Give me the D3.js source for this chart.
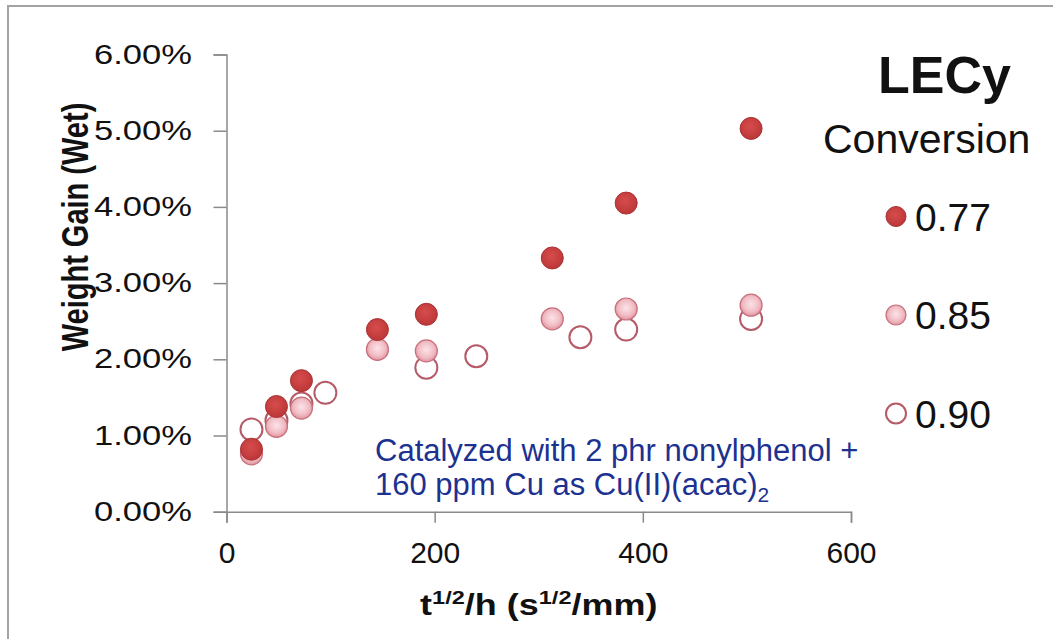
<!DOCTYPE html>
<html>
<head>
<meta charset="utf-8">
<script src="https://cdn.jsdelivr.net/npm/d3@7"></script>
<style>
  body { margin: 0; background: #fff; }
  svg { font-family: "Liberation Sans", Arial, sans-serif; }
</style>
</head>
<body>
<script>
// data (weight gain in %)
var seriesNames = ["0.77", "0.85", "0.90"];
var x077 = [24, 48, 72, 145, 192, 313, 384, 504];
var y077 = [0.82, 1.38, 1.72, 2.39, 2.59, 3.33, 4.05, 5.03];
var x085 = [24, 48, 72, 145, 192, 313, 384, 504];
var y085 = [0.76, 1.12, 1.36, 2.13, 2.11, 2.53, 2.66, 2.71];
var x090 = [24, 48, 72, 95, 192, 240, 340, 384, 504];
var y090 = [1.08, 1.20, 1.42, 1.56, 1.89, 2.04, 2.29, 2.39, 2.53];
var xTicks = [0, 200, 400, 600];
var yTicks = [0, 1, 2, 3, 4, 5, 6];
var noteLines = ["Catalyzed with 2 phr nonylphenol +", "160 ppm Cu as Cu(II)(acac)"];

function drawChart() {
  var width = 1053;
  var height = 639;

  var svg = d3.select("body")
    .append("svg")
    .attr("width", width)
    .attr("height", height);

  var defs = svg.append("defs");
  var g1 = defs.append("radialGradient").attr("id", "red").attr("cx", "45%").attr("cy", "40%").attr("r", "60%");
  g1.append("stop").attr("offset", "0%").attr("stop-color", "#d64c4c");
  g1.append("stop").attr("offset", "100%").attr("stop-color", "#bd3738");
  var g2 = defs.append("radialGradient").attr("id", "pink").attr("cx", "50%").attr("cy", "45%").attr("r", "60%");
  g2.append("stop").attr("offset", "0%").attr("stop-color", "#fbe4e8");
  g2.append("stop").attr("offset", "60%").attr("stop-color", "#f1bcc4");
  g2.append("stop").attr("offset", "100%").attr("stop-color", "#dc8794");

  var styles = {
    "0.77": { fill: "url(#red)", stroke: "#a83234", sw: 1 },
    "0.85": { fill: "url(#pink)", stroke: "#c7707c", sw: 1.2 },
    "0.90": { fill: "#fff", stroke: "#b55a66", sw: 2 }
  };

  svg.append("rect")
    .attr("x", 8).attr("y", 6)
    .attr("width", 1100).attr("height", 700)
    .attr("fill", "none").attr("stroke", "#a3a3a3").attr("stroke-width", 2);

  var x = d3.scaleLinear().domain([0, 600]).range([226.5, 851]);
  var y = d3.scaleLinear().domain([0, 6]).range([511.7, 54.5]);

  var xAxis = svg.append("g")
    .attr("transform", "translate(0," + y(0) + ")")
    .call(d3.axisBottom(x).tickValues(xTicks).tickSize(11).tickPadding(19).tickFormat(d3.format("d")));
  xAxis.selectAll("text").attr("font-size", 30).attr("fill", "#111").attr("font-family", null);

  var yAxis = svg.append("g")
    .attr("transform", "translate(" + x(0) + ",0)")
    .call(d3.axisLeft(y).tickValues(yTicks).tickSize(13).tickFormat(function(d) { return d.toFixed(2) + "%"; }));
  yAxis.selectAll("text")
    .attr("font-size", 27).attr("fill", "#111").attr("font-family", null)
    .attr("x", -27).attr("transform", "scale(1.28,1)");

  svg.selectAll(".domain, .tick line").attr("stroke", "#8a8a8a").attr("stroke-width", 1.5);

  // axis titles
  var xt = svg.append("text")
    .attr("transform", "translate(" + (x(0) + x(600)) / 2 + ",615) scale(1.24,1)")
    .attr("text-anchor", "middle").attr("font-size", 29).attr("font-weight", "bold").attr("fill", "#111");
  xt.append("tspan").text("t");
  xt.append("tspan").attr("font-size", 19).attr("dy", -11).text("1/2");
  xt.append("tspan").attr("dy", 11).text("/h (s");
  xt.append("tspan").attr("font-size", 19).attr("dy", -11).text("1/2");
  xt.append("tspan").attr("dy", 11).text("/mm)");

  svg.append("text")
    .attr("transform", "translate(88,227) scale(1.3,1) rotate(-90)")
    .attr("text-anchor", "middle").attr("font-size", 29).attr("font-weight", "bold").attr("fill", "#111")
    .text("Weight Gain (Wet)");

  // points, drawn so 0.77 ends on top
  var series = [
    { name: "0.90", xs: x090, ys: y090 },
    { name: "0.85", xs: x085, ys: y085 },
    { name: "0.77", xs: x077, ys: y077 }
  ];
  series.forEach(function(s) {
    var st = styles[s.name];
    svg.append("g").selectAll("circle")
      .data(s.xs.map(function(v, i) { return { x: v, y: s.ys[i] }; }))
      .enter().append("circle")
        .attr("cx", function(d) { return x(d.x); })
        .attr("cy", function(d) { return y(d.y); })
        .attr("r", 11)
        .attr("fill", st.fill).attr("stroke", st.stroke).attr("stroke-width", st.sw);
  });

  // legend
  svg.append("text").attr("x", 878).attr("y", 93).attr("font-size", 52).attr("font-weight", "bold").attr("fill", "#111").text("LECy");
  svg.append("text").attr("x", 823).attr("y", 153).attr("font-size", 41).attr("fill", "#111").text("Conversion");

  var legendY = d3.scalePoint().domain(seriesNames).range([216.5, 413.5]);
  var leg = svg.append("g").selectAll("g")
    .data(seriesNames)
    .enter().append("g")
    .attr("transform", function(d) { return "translate(896," + legendY(d) + ")"; });
  leg.append("circle").attr("r", 10)
    .attr("fill", function(d) { return styles[d].fill; })
    .attr("stroke", function(d) { return styles[d].stroke; })
    .attr("stroke-width", function(d) { return styles[d].sw; });
  leg.append("text").attr("x", 19).attr("y", 14).attr("font-size", 39).attr("fill", "#111").text(function(d) { return d; });

  // note
  var note = svg.append("text").attr("x", 375).attr("y", 461).attr("font-size", 31).attr("fill", "#1c3190");
  note.append("tspan").attr("x", 375).text(noteLines[0]);
  note.append("tspan").attr("x", 375).attr("dy", 34).text(noteLines[1]);
  note.append("tspan").attr("font-size", 21).attr("dy", 7).text("2");
}

drawChart();
</script>
</body>
</html>
